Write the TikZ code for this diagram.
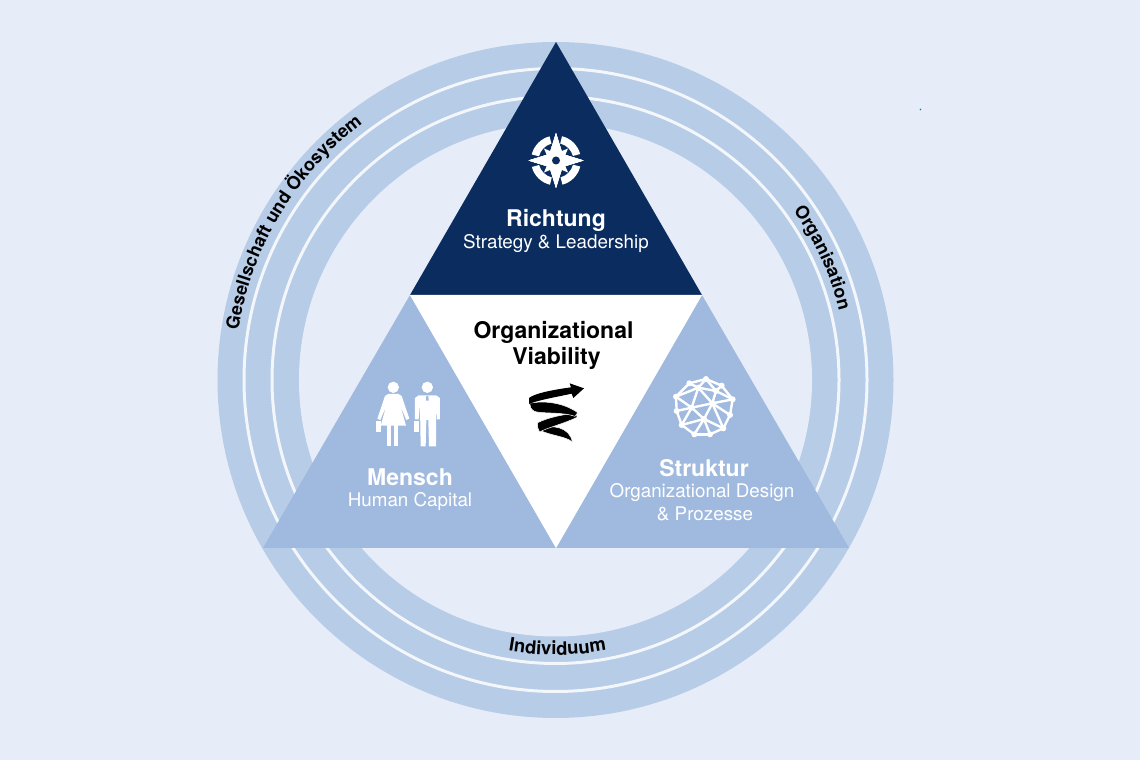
\documentclass[tikz,border=0pt]{standalone}
\usepackage{fontspec}
\setmainfont{TeX Gyre Heros}
\usetikzlibrary{decorations.text}
\definecolor{bgblue}{HTML}{E7EDF8}
\definecolor{ringblue}{HTML}{B7CCE7}
\definecolor{sideblue}{HTML}{A0B9DF}
\definecolor{darkblue}{HTML}{0B2C5E}
\tikzset{
  headtext/.style={align=center,font=\fontsize{23}{26}\selectfont\bfseries},
  subtext/.style={align=center,font=\fontsize{18.8}{23}\selectfont},
  ringtext/.style={decorate,decoration={text along path,text align=center,text={#1}}},
  gap/.style={draw=bgblue!50!white,line width=3,fill=none}
}
\begin{document}
\begin{tikzpicture}[x=1pt,y=1pt]
\useasboundingbox (0,0) rectangle (1140,760);
\fill[bgblue] (0,0) rectangle (1140,760);
\fill[darkblue!60!cyan] (920.5,650.5) circle (.8);

% rings
\coordinate (mid) at (555.5,380);
\fill[ringblue] (mid) circle (338);
\draw[gap] (mid) circle (311.5);
\draw[gap] (mid) circle (283.5);
\fill[bgblue] (mid) circle (256.5);

\path[ringtext={|\fontsize{18}{18}\selectfont\bfseries|Gesellschaft und Ökosystem}]
  ([shift={(175.5:321)}]mid) arc[start angle=175.5,end angle=122.5,radius=321];
\path[ringtext={|\fontsize{18}{18}\selectfont\bfseries|Organisation}]
  ([shift={(40:292)}]mid) arc[start angle=40,end angle=9.2,radius=292];
\path[ringtext={|\fontsize{18.5}{18}\selectfont\bfseries|Individuum}]
  ([shift={(255.4:275)}]mid) arc[start angle=255.4,end angle=285.4,radius=275];

% triangles
\coordinate (top) at (556,718);
\coordinate (left) at (263,212);
\coordinate (right) at (849,212);
\coordinate (innerl) at (410,465);
\coordinate (innerr) at (702,465);
\coordinate (base) at (556,212);
\fill[darkblue] (top) -- (innerr) -- (innerl) -- cycle;
\fill[sideblue] (innerl) -- (base) -- (left) -- cycle;
\fill[sideblue] (innerr) -- (right) -- (base) -- cycle;
\fill[white] (innerl) -- (innerr) -- (base) -- cycle;

\node[headtext,white] (richtung) at (556,540) {Richtung};
\node[subtext,white] (strategy) at (556,516.5) {Strategy \& Leadership};
\node[headtext] (viability) at (553.5,414.5) {Organizational\\\hspace*{6pt}Viability};
\node[headtext,white] (mensch) at (410,283) {Mensch};
\node[subtext,white] (human) at (410,258) {Human Capital};
\node[headtext,white] (struktur) at (704,292) {Struktur};
\node[subtext,white] (design) at (702,258) {Organizational Design\\\hspace*{6pt}\& Prozesse};

% compass
\begin{scope}[shift={(556,599.5)}]
\foreach \a in {0,90,180,270} {
  \fill[white,rotate=\a] (15:17.5) arc[start angle=15,end angle=76,radius=17.5]
    -- (76:25) arc[start angle=76,end angle=15,radius=25] -- cycle;
  \fill[white,rotate=\a] (0,27.5) -- (6.5,6.5) -- (27.5,0) -- (6.5,-6.5) -- (0,-27.5) -- (-6.5,-6.5) -- (-27.5,0) -- (-6.5,6.5) -- cycle;
  \fill[white,rotate=\a] (45:17) -- (0,7) -- (7,0) -- cycle;
}
\fill[darkblue] (0,0) circle (4);
\end{scope}

% people
\begin{scope}[shift={(360,390)},x=.3333pt,y=-.3333pt]
\fill[white] (100,52) circle (17);
\fill[white] (85,72) -- (115,72) -- (125,78) -- (148,146) -- (139,150) -- (122,110) -- (138,167)
  -- (62,167) -- (78,110) -- (61,150) -- (52,146) -- (75,78) -- cycle;
\fill[white] (49,152) rectangle (64,186);
\fill[white] (82,165) rectangle (93,229);
\fill[white] (103,165) rectangle (115,229);
\fill[white] (202,52) circle (17);
\fill[white] (176,76) -- (228,76) -- (240,84) -- (240,148) -- (231,148) -- (229,105) -- (228,229)
  -- (207,229) -- (205,150) -- (199,150) -- (197,229) -- (182,229) -- (180,105) -- (176,148)
  -- (165,148) -- (165,84) -- cycle;
\fill[white] (163,152) rectangle (178,186);
\fill[sideblue] (199,78) -- (205,78) -- (206,92) -- (198,92) -- cycle;
\end{scope}

% geodesic sphere
\begin{scope}[shift={(660,395)},x=.3333pt,y=-.3333pt]
\foreach \n/\p in {a/{48,95},b/{88,55},c/{138,42},d/{185,62},e/{218,103},f/{210,150},g/{190,190},
  h/{150,208},i/{103,208},j/{65,180},k/{50,138},l/{115,68},m/{168,78},n/{95,128},o/{157,115},p/{132,162}}
  \coordinate (\n) at (\p);
\foreach \u/\v in {a/b,b/c,c/d,d/e,e/f,f/g,g/h,h/i,i/j,j/k,k/a,a/l,b/l,c/l,c/m,d/m,e/m,l/m,a/n,
  k/n,j/n,l/n,l/o,m/o,e/o,f/o,n/o,n/p,o/p,g/p,h/p,i/p,j/p,o/g}
  \draw[white,line width=2.4] (\u) -- (\v);
\foreach \n in {a,b,c,d,e,f,g,h,i,j,k,l,m,n,o,p}
  \fill[white] (\n) circle (9);
\end{scope}

% spiral arrow
\begin{scope}[shift={(515,390)},x=.3333pt,y=-.3333pt]
\tikzset{band/.style={fill=black,draw=white,line width=.5}}
\path[band] (72,180) .. controls (110,160) and (165,172) .. (172,216)
  .. controls (150,198) and (110,198) .. (72,180) -- cycle;
\path[band] (68,158) .. controls (100,142) and (150,132) .. (184,130) -- (186,142)
  .. controls (150,160) and (100,172) .. (74,186) .. controls (68,178) and (66,168) .. (68,158) -- cycle;
\path[band] (44,100) .. controls (90,90) and (150,100) .. (188,128) -- (180,139)
  .. controls (140,125) and (80,132) .. (58,124) .. controls (48,118) and (44,110) .. (44,100) -- cycle;
\path[band,draw=none] (42,102) -- (42,84) .. controls (60,70) and (110,60) .. (168,52) -- (164,40) -- (207,55) -- (175,84)
  -- (170,71) .. controls (120,82) and (70,90) .. (42,102) -- cycle;
\end{scope}
\end{tikzpicture}
\end{document}
